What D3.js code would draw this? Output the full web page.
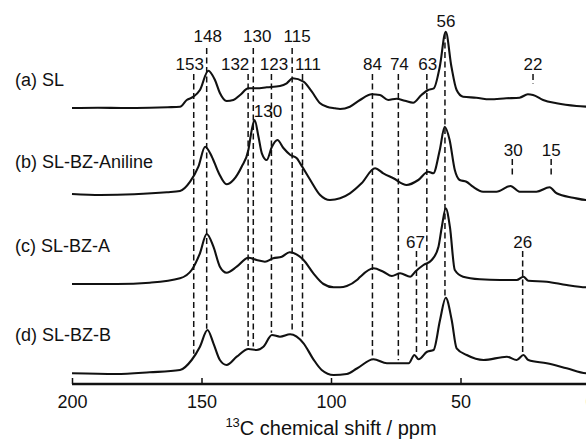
<!DOCTYPE html>
<html><head><meta charset="utf-8">
<script src="https://cdn.jsdelivr.net/npm/d3@7"></script>
<style>
html,body{margin:0;padding:0;background:#fff;}
svg{display:block;font-family:"Liberation Sans",Arial,Helvetica,sans-serif;}
</style></head>
<body><svg id="chart" width="586" height="439"></svg>
<script>
// ---------------- DATA ----------------
const seriesNames = ["(a) SL", "(b) SL-BZ-Aniline", "(c) SL-BZ-A", "(d) SL-BZ-B"];
const seriesOffsets = [276, 189, 100, 10];   // stacking offsets (intensity units)

// [ppm, intensity]
const spectrumA = [[200,0],[190,0.3],[180,0],[170,0.3],[163,0.8],[158.3,1.3],[155.7,8],[153.1,11.3],[150.6,18],[147.4,37.3],[144.8,28],[142.9,15],[140.3,7],[137.7,8],[135.1,13],[131.9,19.7],[128.7,19.7],[124.8,20.7],[119.7,22],[117.1,24.7],[114.8,29.7],[110.6,26.3],[107.4,16.3],[104.2,4.7],[101.6,1.3],[98.5,-0.3],[96.5,-1],[92.7,1.3],[88.8,8],[84.3,13.7],[81.1,13],[77.9,8],[74.7,9.3],[71.5,7.3],[68.3,5.3],[65.1,13],[62.5,18],[60.3,19.7],[58,41.3],[55.7,76.3],[53.5,41.3],[51.5,18],[49,11.3],[43.9,10.3],[38.7,8.7],[32.3,9.7],[27.2,10.3],[24,13.7],[22,13],[18.1,8],[12.9,4.7],[5.2,2],[1.3,1.3],[-1,1]];
const spectrumB = [[200,1],[189,0],[176,0.7],[163.4,2.7],[158.3,4],[154.4,13.3],[151.2,28.3],[148.6,48.3],[146,38.3],[143.3,21.7],[140.3,10.7],[137.7,15],[134.5,28.3],[131.9,45],[130.6,65],[129.5,75],[128,58.3],[126.7,41.7],[124.8,35],[122.8,48.3],[120.7,55],[118.3,46.7],[115.7,40],[113.2,36.7],[111.9,31.7],[108,15],[104.2,0],[100.4,-5],[96.5,-3.3],[92.7,1.7],[88.2,11.7],[83,26.7],[79.8,21.7],[75.9,16.7],[70.8,10],[66.3,15],[62.5,23.3],[60.5,21.7],[58,45],[56.1,68.3],[54.2,55],[52.2,25],[50.3,15],[47.7,13.3],[45.2,8.3],[41.3,3.3],[36.1,3.3],[30.7,9],[27.2,3.3],[20.7,3.3],[15.6,7.7],[12.9,1.7],[6.5,-2.7],[1.3,-5],[-1,-5]];
const spectrumC = [[200,0],[182.7,0],[170,1.3],[158.3,5.7],[153.8,14],[150.6,30.7],[148,50],[145.4,37.3],[142.9,17.3],[140.3,11.3],[136.4,17.3],[131.9,26.3],[128.7,24],[125.5,22.3],[122.3,25.7],[119,27.3],[116,31.7],[110.6,24],[106.8,10.7],[102.9,0],[99,-3.3],[96.5,-3.3],[93.9,-2],[90,4],[88.8,7],[83.6,15.7],[79.8,12.3],[76.5,8],[73.3,10.7],[69.4,7.3],[67.5,12.3],[64.3,19],[61.1,24],[58.5,37.3],[57.2,57.3],[55.7,75.7],[54.1,57.3],[52.2,14],[49,7.3],[42.5,4.7],[34.7,4],[28.3,4],[25.7,7.3],[23.8,3.3],[16.7,2.3],[9,-1],[1.5,-3.3],[-1,-3.5]];
const spectrumD = [[200,0.7],[183,0],[170,1.7],[158.3,4],[153.8,14],[150.6,27.3],[147.7,44],[145.4,30.7],[142.9,14],[140.3,9],[136.4,17.3],[131.9,25],[128.7,24],[126.1,27.3],[122.8,39],[119.7,37.3],[115.8,39.7],[110.6,30.7],[106.8,14.7],[103.6,4],[99,-1],[93.9,0],[90,5.5],[83.6,14.7],[78.4,10.7],[73.9,10.7],[70,10.7],[67.8,19],[66.2,14.7],[62.9,22.3],[60.4,24],[57.9,54],[55.7,76.3],[53.4,54],[51.5,25.7],[47.6,19],[41.1,14],[32.1,17.3],[28.3,14],[25.7,19],[23.8,14],[16.7,10.7],[9,5.7],[1.5,0.7],[-1,0.5]];
const spectra = [spectrumA, spectrumB, spectrumC, spectrumD];

const xTicks = [200, 150, 100, 50, 0];

// peak assignments: ppm, label, label row, series the dashed line runs down to
const peakPpm    = [153, 148, 132, 130, 123, 115, 111, 84, 74, 63, 56, 22, 30, 15, 67, 26];
const peakLabels = ["153","148","132","130","123","115","111","84","74","63","56","22","30","15","67","26"];
const peakRow    = ["r2","r1","r2","r1","r2","r1","r2","r2","r2","r2","r0","r2","rb","rb","rc","rc"];
const peakEnd    = [3,3,3,3,3,3,3,3,3,3,3,0,1,1,3,3];
const peakShort  = [false,false,false,false,false,false,false,false,false,false,false,true,true,true,false,false];
const extraLabel = {ppm:130, text:"130", series:1};

// ---------------- LAYOUT ----------------
const W = 586, H = 439;
const x = d3.scaleLinear().domain([200, 0]).range([72, 590]);
const y = d3.scaleLinear().domain([0, 384]).range([384, 0]);
const axisY = 384;
const rowBase = {r0:27, r1:42, r2:70, rb:156, rc:248};
const labelDx = {"153":-4,"148":1,"132":-13,"130":4,"123":2.5,"115":5,"111":5.5,"84":0,"74":1,"63":1,"56":1,"22":0,"30":1,"15":0,"67":-1,"26":0};

const svg = d3.select("#chart");
svg.append("rect").attr("width", W).attr("height", H).attr("fill", "#fff");

function valueAt(series, ppm) {
  const s = spectra[series];
  for (let i = 0; i < s.length - 1; i++) {
    const a = s[i], b = s[i+1];
    if (ppm <= a[0] && ppm >= b[0]) {
      const t = (a[0] - ppm) / (a[0] - b[0]);
      return a[1] + t * (b[1] - a[1]);
    }
  }
  return 0;
}

// dashed lines
const dashG = svg.append("g");
peakPpm.forEach((p, i) => {
  const row = peakRow[i];
  const top = rowBase[row] + (row === "r0" ? 6 : row === "r1" ? 6 : row === "r2" ? 4 : 3);
  const endY = y(seriesOffsets[peakEnd[i]] + valueAt(peakEnd[i], p));
  const bottom = peakShort[i] ? endY - 11 : endY - 3;
  dashG.append("line")
    .attr("x1", x(p)).attr("x2", x(p))
    .attr("y1", top).attr("y2", bottom)
    .attr("stroke", "#111").attr("stroke-width", 1.5)
    .attr("stroke-dasharray", "6,3.5");
});

// spectra
const line = d3.line().x(d => x(d[0])).y(d => d[1]).curve(d3.curveMonotoneX);
spectra.forEach((s, i) => {
  const pts = s.map(d => [d[0], y(seriesOffsets[i] + d[1])]);
  svg.append("path").attr("d", line(pts))
    .attr("fill", "none").attr("stroke", "#111")
    .attr("stroke-width", 2.1).attr("stroke-linejoin", "round");
});

// peak labels
peakPpm.forEach((p, i) => {
  svg.append("text")
    .attr("x", x(p) + labelDx[peakLabels[i]])
    .attr("y", rowBase[peakRow[i]])
    .attr("text-anchor", "middle")
    .attr("font-size", 17).attr("fill", "#111")
    .text(peakLabels[i]);
});
svg.append("text")
  .attr("x", x(extraLabel.ppm) + 0.5).attr("y", 117)
  .attr("text-anchor", "start").attr("font-size", 17).attr("fill", "#111")
  .text(extraLabel.text);

// series names
const nameBase = [86, 168, 251.5, 340.5];
seriesNames.forEach((n, i) => {
  svg.append("text").attr("x", 15).attr("y", nameBase[i])
    .attr("font-size", 18).attr("fill", "#111").text(n);
});

// axis
const axisG = svg.append("g").attr("transform", `translate(0,${axisY})`);
const axis = d3.axisBottom(x).tickValues(xTicks).tickSize(-6).tickPadding(0).tickFormat(d3.format("d"));
axisG.call(axis);
axisG.select(".domain").attr("d", `M${x(200)},0H${x(0)}`).attr("stroke", "#111").attr("stroke-width", 2.5);
axisG.selectAll(".tick line").attr("stroke", "#111").attr("stroke-width", 1.5);
axisG.selectAll(".tick text").attr("font-size", 18).attr("fill", "#111")
  .attr("font-family", "Liberation Sans, Arial, sans-serif").attr("dy", null).attr("y", 24);

// axis title
const title = svg.append("text").attr("x", x(100)).attr("y", 435)
  .attr("text-anchor", "middle").attr("font-size", 20).attr("fill", "#111");
title.append("tspan").attr("font-size", 13).attr("dy", -8).text("13");
title.append("tspan").attr("dy", 8).text("C chemical shift / ppm");
</script>
</body></html>
